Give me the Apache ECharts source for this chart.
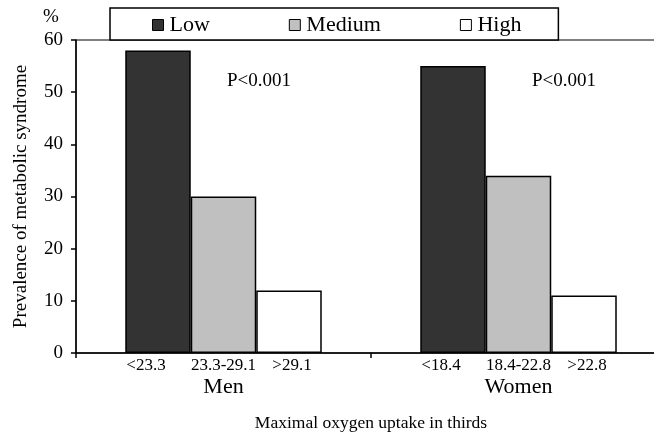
<!DOCTYPE html>
<html>
<head>
<meta charset="utf-8">
<script src="https://cdn.jsdelivr.net/npm/echarts@6/dist/echarts.min.js"></script>
<style>html,body{margin:0;padding:0;background:#fff;overflow:hidden;width:654px;height:437px;}#c{width:666px;height:437px;}</style>
</head>
<body>
<div id="c"></div>
<script>
var categories = ['Men', 'Women'];
var seriesNames = ['Low', 'Medium', 'High'];
var lowValues = [58, 55];
var mediumValues = [30, 34];
var highValues = [12, 11];
var lowLabels = ['<23.3', '<18.4'];
var mediumLabels = ['23.3-29.1', '18.4-22.8'];
var highLabels = ['>29.1', '>22.8'];
var yTicks = [0, 10, 20, 30, 40, 50, 60];
var pText = 'P<0.001';

var FONT = "'Liberation Serif', 'Times New Roman', serif";
var colors = ['#333333', '#c0c0c0', '#ffffff'];
var valuesList = [lowValues, mediumValues, highValues];
var labelsList = [lowLabels, mediumLabels, highLabels];
var labelOffsets = [[-12, 0], [0, 0], [3, 0]];

var chart = echarts.init(document.getElementById('c'), null, {renderer: 'canvas'});

var series = seriesNames.map(function (name, i) {
  return {
    name: name,
    type: 'bar',
    data: valuesList[i],
    barWidth: 65.5,
    barGap: '0%',
    itemStyle: {color: colors[i], borderColor: '#000', borderWidth: 1.5},
    label: {
      show: true,
      position: 'bottom',
      distance: 4,
      offset: labelOffsets[i],
      color: '#000',
      fontFamily: FONT,
      fontSize: 17,
      formatter: (function (arr) { return function (p) { return arr[p.dataIndex]; }; })(labelsList[i])
    },
    emphasis: {disabled: true},
    animation: false
  };
});

var option = {
  animation: false,
  textStyle: {fontFamily: FONT, color: '#000'},
  grid: {left: 76, top: 40, bottom: 83, right: 0, show: true, borderColor: '#000', borderWidth: 1, containLabel: false},
  legend: {
    data: seriesNames,
    left: 110,
    top: 8,
    padding: [6, 37, 4, 42],
    itemGap: 79,
    itemWidth: 11,
    itemHeight: 11,
    icon: 'rect',
    borderColor: '#000',
    borderWidth: 1.5,
    borderRadius: 0,
    backgroundColor: '#fff',
    itemStyle: {borderColor: '#000', borderWidth: 1},
    textStyle: {fontFamily: FONT, fontSize: 22, lineHeight: 22, color: '#000', padding: [0, 0, 0, 1]},
    selectedMode: false
  },
  xAxis: {
    type: 'category',
    data: categories,
    axisLine: {lineStyle: {color: '#000', width: 1.5}},
    axisTick: {show: true, length: 5, lineStyle: {color: '#000', width: 1.5}},
    axisLabel: {color: '#000', fontFamily: FONT, fontSize: 22, margin: 23},
    name: 'Maximal oxygen uptake in thirds',
    nameLocation: 'middle',
    nameGap: 61,
    nameTextStyle: {color: '#000', fontFamily: FONT, fontSize: 17.5}
  },
  yAxis: {
    type: 'value',
    min: yTicks[0],
    max: yTicks[yTicks.length - 1],
    interval: 10,
    splitLine: {show: false},
    axisLine: {show: true, lineStyle: {color: '#000', width: 1.5}},
    axisTick: {show: true, length: 5, lineStyle: {color: '#000', width: 1.5}},
    axisLabel: {color: '#000', fontFamily: FONT, fontSize: 19, margin: 13},
    name: 'Prevalence of metabolic syndrome',
    nameLocation: 'middle',
    nameGap: 45,
    nameTextStyle: {color: '#000', fontFamily: FONT, fontSize: 19}
  },
  graphic: [
    {type: 'text', left: 43, top: 8, style: {text: '%', font: '19px ' + FONT, fill: '#000'}},
    {type: 'text', left: 227, top: 72, style: {text: pText, font: '19px ' + FONT, fill: '#000'}},
    {type: 'text', left: 532, top: 72, style: {text: pText, font: '19px ' + FONT, fill: '#000'}}
  ],
  series: series
};
chart.setOption(option);
</script>
</body>
</html>
